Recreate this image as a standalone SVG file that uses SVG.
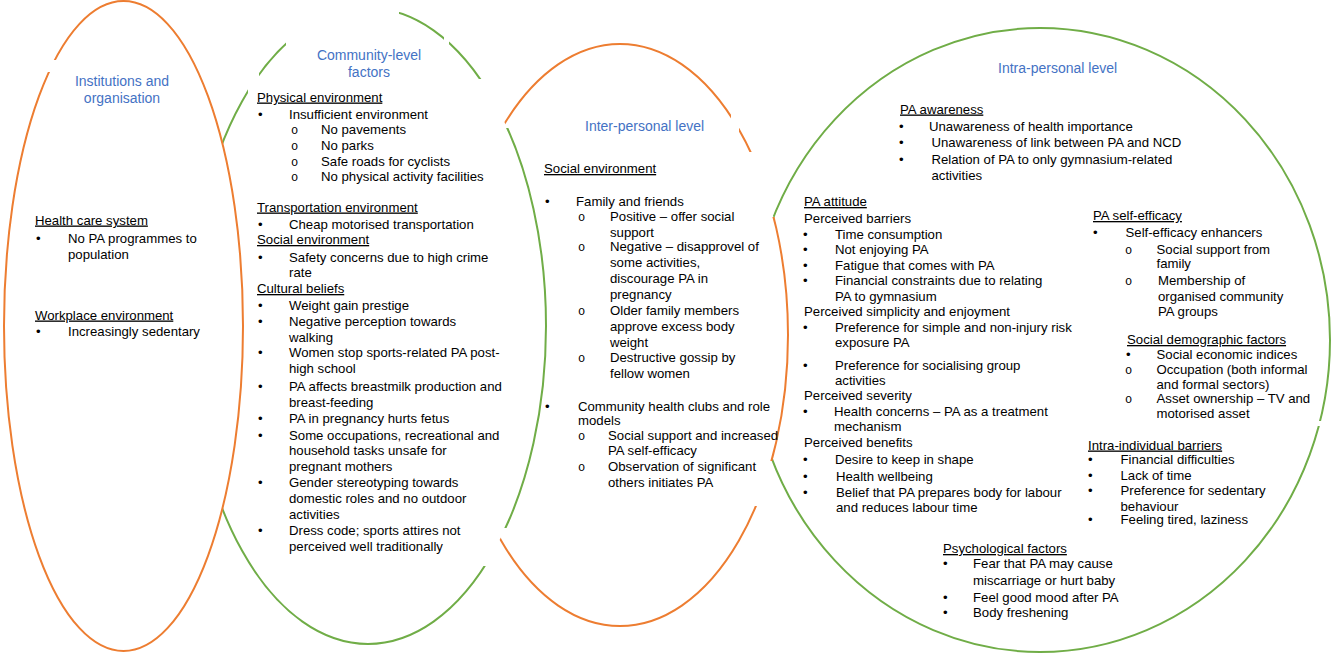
<svg xmlns="http://www.w3.org/2000/svg" width="1333" height="656" viewBox="0 0 1333 656">
<style>
text{font-family:"Liberation Sans",Arial,sans-serif;font-size:13.2px;fill:#000}
.ttl{font-size:14px;fill:#4472C4}
.u{text-decoration:underline}
.o{font-family:"Liberation Mono","Courier New",monospace;font-size:12px}
.gr{fill:none;stroke:#70AD47;stroke-width:2}
.or{fill:none;stroke:#ED7D31;stroke-width:2}
.wf{fill:#fff;stroke:none}
</style>
<defs>
<clipPath id="c1"><path clip-rule="evenodd" d="M0 0H1333V656H0Z M40 60h16v12h-16Z"/></clipPath>
<clipPath id="c2"><path clip-rule="evenodd" d="M0 0H1333V656H0Z M286 0h113v60h-113Z M444 20h5v30h-5Z M248 60h11v50h-11Z M470 79h50v49h-50Z M470 528h50v38h-50Z"/></clipPath>
<clipPath id="c3"><path clip-rule="evenodd" d="M0 0H1333V656H0Z M731 100h8v35h-8Z M740 152h60v65h-60Z M740 461h60v45h-60Z"/></clipPath>
<clipPath id="c4"><path clip-rule="evenodd" d="M0 0H1333V656H0Z M452 335a168 291 0 1 0 336 0a168 291 0 1 0 -336 0Z M1315 421h18v5h-18Z"/></clipPath>
</defs>

<g id="intrapersonal">
<ellipse class="gr" cx="1040" cy="340" rx="290" ry="312" clip-path="url(#c4)"/>
<text class="ttl" x="998" y="73">Intra-personal level</text>
<text class="u" x="900" y="113.5">PA awareness</text>
<text x="899" y="131">•</text><text x="929" y="131">Unawareness of health importance</text>
<text x="899" y="147">•</text><text x="931.5" y="147">Unawareness of link between PA and NCD</text>
<text x="899" y="164">•</text><text x="931.5" y="164">Relation of PA to only gymnasium-related</text>
<text x="931.5" y="179.5">activities</text>
<text class="u" x="804" y="206">PA attitude</text>
<text x="804" y="223">Perceived barriers</text>
<text x="803" y="239">•</text><text x="835" y="239">Time consumption</text>
<text x="803" y="254">•</text><text x="835" y="254">Not enjoying PA</text>
<text x="803" y="269.5">•</text><text x="835" y="269.5">Fatigue that comes with PA</text>
<text x="803" y="285">•</text><text x="835" y="285">Financial constraints due to relating</text>
<text x="835" y="300.5">PA to gymnasium</text>
<text x="804" y="316">Perceived simplicity and enjoyment</text>
<text x="803" y="332">•</text><text x="835" y="332">Preference for simple and non-injury risk</text>
<text x="835" y="347">exposure PA</text>
<text x="803" y="369.5">•</text><text x="835" y="369.5">Preference for socialising group</text>
<text x="835" y="385">activities</text>
<text x="804" y="399.5">Perceived severity</text>
<text x="803" y="416">•</text><text x="834" y="416">Health concerns – PA as a treatment</text>
<text x="834" y="431">mechanism</text>
<text x="804" y="447">Perceived benefits</text>
<text x="803" y="464">•</text><text x="835" y="464">Desire to keep in shape</text>
<text x="803" y="481">•</text><text x="836" y="481">Health wellbeing</text>
<text x="803" y="497">•</text><text x="836" y="497">Belief that PA prepares body for labour</text>
<text x="836" y="512">and reduces labour time</text>
<text class="u" x="1093" y="220">PA self-efficacy</text>
<text x="1093" y="237">•</text><text x="1125.5" y="237">Self-efficacy enhancers</text>
<text class="o" x="1125" y="253.5">o</text><text x="1156.5" y="253.5">Social support from</text>
<text x="1156.5" y="268">family</text>
<text class="o" x="1125" y="284.5">o</text><text x="1158" y="284.5">Membership of</text>
<text x="1158" y="300.5">organised community</text>
<text x="1158" y="316">PA groups</text>
<text class="u" x="1127" y="344">Social demographic factors</text>
<text x="1126" y="359">•</text><text x="1156.5" y="359">Social economic indices</text>
<text class="o" x="1125" y="373.5">o</text><text x="1156.5" y="373.5">Occupation (both informal</text>
<text x="1156.5" y="388.5">and formal sectors)</text>
<text class="o" x="1125" y="403">o</text><text x="1156.5" y="403">Asset ownership – TV and</text>
<text x="1156.5" y="418">motorised asset</text>
<text class="u" x="1088" y="449.5">Intra-individual barriers</text>
<text x="1088" y="464">•</text><text x="1120.5" y="464">Financial difficulties</text>
<text x="1088" y="479.5">•</text><text x="1120.5" y="479.5">Lack of time</text>
<text x="1088" y="495">•</text><text x="1120.5" y="495">Preference for sedentary</text>
<text x="1120.5" y="510.5">behaviour</text>
<text x="1088" y="524">•</text><text x="1120.5" y="524">Feeling tired, laziness</text>
<text class="u" x="943" y="553">Psychological factors</text>
<text x="943" y="568">•</text><text x="973" y="568">Fear that PA may cause</text>
<text x="973" y="584.5">miscarriage or hurt baby</text>
<text x="943" y="602">•</text><text x="973" y="602">Feel good mood after PA</text>
<text x="943" y="617">•</text><text x="973" y="617">Body freshening</text>
</g>

<g id="interpersonal">
<ellipse class="or" cx="620" cy="335" rx="168" ry="291" clip-path="url(#c3)"/>
<text class="ttl" x="585" y="130.5">Inter-personal level</text>
<text class="u" x="544" y="173">Social environment</text>
<text x="545" y="206">•</text><text x="576" y="206">Family and friends</text>
<text class="o" x="578" y="221">o</text><text x="610" y="221">Positive – offer social</text>
<text x="610" y="237">support</text>
<text class="o" x="578" y="251">o</text><text x="610" y="251">Negative – disapprovel of</text>
<text x="610" y="267">some activities,</text>
<text x="610" y="283">discourage PA in</text>
<text x="610" y="298.5">pregnancy</text>
<text class="o" x="578" y="315">o</text><text x="610" y="315">Older family members</text>
<text x="610" y="331">approve excess body</text>
<text x="610" y="347">weight</text>
<text class="o" x="578" y="362">o</text><text x="610" y="362">Destructive gossip by</text>
<text x="610" y="378">fellow women</text>
<text x="545" y="410.5">•</text><text x="578" y="410.5">Community health clubs and role</text>
<text x="578" y="425">models</text>
<text class="o" x="578" y="439.5">o</text><text x="608" y="439.5">Social support and increased</text>
<text x="608" y="455">PA self-efficacy</text>
<text class="o" x="578" y="471">o</text><text x="608" y="471">Observation of significant</text>
<text x="608" y="487">others initiates PA</text>
</g>

<g id="community">
<ellipse class="wf" cx="368" cy="326" rx="178" ry="318"/>
<ellipse class="gr" cx="368" cy="326" rx="178" ry="318" clip-path="url(#c2)"/>
<text class="ttl" x="369" y="60" text-anchor="middle">Community-level</text>
<text class="ttl" x="369" y="77" text-anchor="middle">factors</text>
<text class="u" x="257" y="101.5">Physical environment</text>
<text x="258" y="118.5">•</text><text x="289" y="118.5">Insufficient environment</text>
<text class="o" x="291" y="133.5">o</text><text x="321" y="133.5">No pavements</text>
<text class="o" x="291" y="150">o</text><text x="321" y="150">No parks</text>
<text class="o" x="291" y="166">o</text><text x="321" y="166">Safe roads for cyclists</text>
<text class="o" x="291" y="181">o</text><text x="321" y="181">No physical activity facilities</text>
<text class="u" x="257" y="211.5">Transportation environment</text>
<text x="258" y="228.5">•</text><text x="289" y="228.5">Cheap motorised transportation</text>
<text class="u" x="257" y="244">Social environment</text>
<text x="258" y="261.5">•</text><text x="289" y="261.5">Safety concerns due to high crime</text>
<text x="289" y="277">rate</text>
<text class="u" x="257" y="293">Cultural beliefs</text>
<text x="258" y="309.5">•</text><text x="289" y="309.5">Weight gain prestige</text>
<text x="258" y="326">•</text><text x="289" y="326">Negative perception towards</text>
<text x="289" y="342">walking</text>
<text x="258" y="357">•</text><text x="289" y="357">Women stop sports-related PA post-</text>
<text x="289" y="373">high school</text>
<text x="258" y="391">•</text><text x="289" y="391">PA affects breastmilk production and</text>
<text x="289" y="407">breast-feeding</text>
<text x="258" y="423">•</text><text x="289" y="423">PA in pregnancy hurts fetus</text>
<text x="258" y="439.5">•</text><text x="289" y="439.5">Some occupations, recreational and</text>
<text x="289" y="455">household tasks unsafe for</text>
<text x="289" y="471">pregnant mothers</text>
<text x="258" y="487">•</text><text x="289" y="487">Gender stereotyping towards</text>
<text x="289" y="503">domestic roles and no outdoor</text>
<text x="289" y="518.5">activities</text>
<text x="258" y="535">•</text><text x="289" y="535">Dress code; sports attires not</text>
<text x="289" y="551">perceived well traditionally</text>
</g>

<g id="institutions">
<ellipse class="wf" cx="123.5" cy="326" rx="119.5" ry="325"/>
<ellipse class="or" cx="123.5" cy="326" rx="119.5" ry="325" clip-path="url(#c1)"/>
<text class="ttl" x="122" y="86" text-anchor="middle">Institutions and</text>
<text class="ttl" x="122" y="103" text-anchor="middle">organisation</text>
<text class="u" x="35" y="224.5">Health care system</text>
<text x="36" y="242.5">•</text><text x="68" y="242.5">No PA programmes to</text>
<text x="68" y="258.5">population</text>
<text class="u" x="35" y="319.5">Workplace environment</text>
<text x="36" y="336">•</text><text x="68" y="336">Increasingly sedentary</text>
</g>

<g id="connectors"/>
</svg>
